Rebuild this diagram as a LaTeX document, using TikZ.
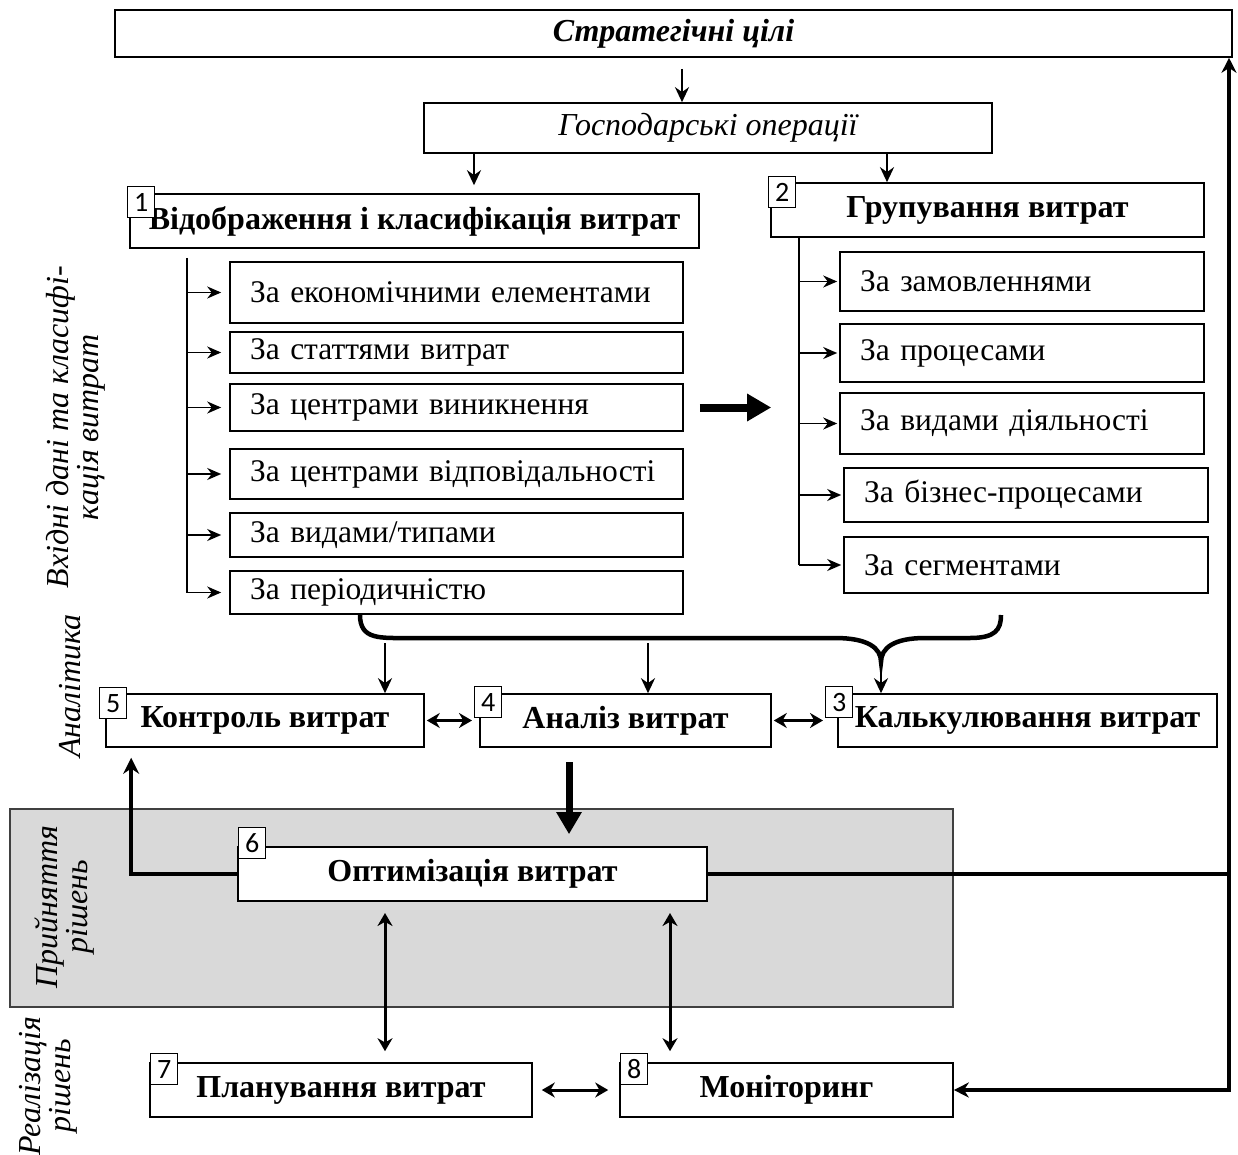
\documentclass[tikz,border=0pt]{standalone}
\usepackage{fontspec}
\setmainfont{Liberation Serif}
\newfontfamily\tagfont{Carlito}
\usetikzlibrary{arrows.meta}

\begin{document}
\begin{tikzpicture}[x=1pt,y=-1pt,
  box/.style={draw, line width=1.6pt, inner sep=0pt, font=\fontsize{32}{30}\selectfont\bfseries},
  lbox/.style={draw, line width=1.6pt, inner xsep=20pt, inner ysep=0pt, text width=413pt, align=left, font=\fontsize{31.5}{30}\selectfont},
  rbox/.style={lbox, text width=324pt},
  tag/.style={draw, fill=white, line width=1.4pt, inner sep=0pt, minimum width=27pt, minimum height=31pt, anchor=north west, font=\tagfont\fontsize{28}{28}\selectfont},
  side/.style={rotate=90, align=center, font=\fontsize{32}{30}\selectfont\itshape},
  arr/.style={line width=2.6pt, -{Stealth[length=15pt,width=14pt]}},
  sarr/.style={line width=1.8pt, -{Stealth[length=14pt,width=12pt]}},
  dbl/.style={line width=3pt, {Stealth[length=13pt,width=15pt]}-{Stealth[length=13pt,width=15pt]}},
  thk/.style={line width=4.5pt}]
\useasboundingbox (0,0) rectangle (1238,1155);

\path[fill=gray!30, draw=black!75, line width=1.5pt] (10,809) rectangle (953,1007);

\node[box, font=\fontsize{32}{30}\selectfont\bfseries\itshape, minimum width=1117pt, minimum height=47pt] (goals) at (673.5,33.5) {Стратегічні цілі};
\node[box, font=\fontsize{32}{30}\selectfont\itshape, minimum width=568pt, minimum height=50pt] (ops) at (708,128) {Господарські операції};
\node[box, minimum width=569pt, minimum height=54pt] (k1) at (414.5,221) {Відображення і класифікація витрат};
\node[box, minimum width=433pt, minimum height=54pt] (k2) at (987.5,210) {Групування витрат};

\node[lbox, minimum height=61pt] (l1) at (456.5,292.5) {За економічними елементами};
\node[lbox, minimum height=41pt] (l2) at (456.5,352.5) {За статтями витрат};
\node[lbox, minimum height=47pt] (l3) at (456.5,407.5) {За центрами виникнення};
\node[lbox, minimum height=50pt] (l4) at (456.5,474) {За центрами відповідальності};
\node[lbox, minimum height=44pt] (l5) at (456.5,535) {За видами/типами};
\node[lbox, minimum height=43pt] (l6) at (456.5,592.5) {За періодичністю};

\node[rbox, minimum height=59pt] (r1) at (1022,281.5) {За замовленнями};
\node[rbox, minimum height=58pt] (r2) at (1022,353) {За процесами};
\node[rbox, minimum height=61pt] (r3) at (1022,423.5) {За видами діяльності};
\node[rbox, minimum height=54pt] (r4) at (1026,495) {За бізнес-процесами};
\node[rbox, minimum height=56pt] (r5) at (1026,565) {За сегментами};

\node[box, minimum width=318pt, minimum height=53pt] (k5) at (265,720.5) {Контроль витрат};
\node[box, minimum width=291pt, minimum height=53pt] (k4) at (625.5,720.5) {Аналіз витрат};
\node[box, minimum width=379pt, minimum height=53pt] (k3) at (1027.5,720.5) {Калькулювання витрат};
\node[box, fill=white, minimum width=469pt, minimum height=54pt] (k6) at (472.5,874) {Оптимізація витрат};
\node[box, minimum width=382pt, minimum height=54pt] (k7) at (341,1090) {Планування витрат};
\node[box, minimum width=333pt, minimum height=54pt] (k8) at (786.5,1090) {Моніторинг};

\node[tag] (t1) at (127,186) {1};
\node[tag] (t2) at (768,176) {2};
\node[tag] (t3) at (825,686) {3};
\node[tag] (t4) at (474,686) {4};
\node[tag] (t5) at (99,687) {5};
\node[tag] (t6) at (238,827) {6};
\node[tag] (t7) at (150,1053) {7};
\node[tag] (t8) at (620,1053) {8};

\node[side] (s1) at (76,427) {Вхідні дані та класифі-\\кація витрат};
\node[side] (s2) at (70,686) {Аналітика};
\node[side] (s3) at (65,907) {Прийняття\\рішень};
\node[side] (s4) at (48,1086) {Реалізація\\рішень};

\coordinate (a0) at (682,69);
\coordinate (a1) at (474,153);
\coordinate (a2) at (887,153);
\draw[arr] (a0) -- (a0 |- ops.north);
\draw[arr, shorten >=8pt] (a1) -- (a1 |- k1.north);
\draw[arr] (a2) -- (a2 |- k2.north);

\coordinate (lt) at (187,258);
\draw[line width=1.8pt] (lt) -- (lt |- l6.west);
\draw[sarr, shorten >=8pt] (lt |- l1.west) -- (l1.west);
\draw[sarr, shorten >=8pt] (lt |- l2.west) -- (l2.west);
\draw[sarr, shorten >=8pt] (lt |- l3.west) -- (l3.west);
\draw[sarr, shorten >=8pt] (lt |- l4.west) -- (l4.west);
\draw[sarr, shorten >=8pt] (lt |- l5.west) -- (l5.west);
\draw[sarr, shorten >=8pt] (lt |- l6.west) -- (l6.west);

\coordinate (rt) at (799,237);
\draw[line width=1.8pt] (rt) -- (rt |- r5.west);
\draw[sarr, shorten >=2pt] (rt |- r1.west) -- (r1.west);
\draw[sarr, shorten >=2pt] (rt |- r2.west) -- (r2.west);
\draw[sarr, shorten >=2pt] (rt |- r3.west) -- (r3.west);
\draw[sarr, shorten >=2pt] (rt |- r4.west) -- (r4.west);
\draw[sarr, shorten >=2pt] (rt |- r5.west) -- (r5.west);

\draw[line width=8pt, -{Triangle[length=24pt,width=26pt]}, shorten <=16pt, shorten >=68pt] (l3.east) -- (l3.east -| r3.west);

\coordinate (bl) at (360,615);
\coordinate (br) at (1001,615);
\coordinate (tip) at (881,662);
\draw[thk] (bl) .. controls (360,640) and (380,638) .. (410,638) -- (835,638) .. controls (868,638) and (881,648) .. (tip) .. controls (881,648) and (894,638) .. (925,638) -- (970,638) .. controls (995,638) and (1001,630) .. (br);

\coordinate (d1) at (385,643);
\coordinate (d2) at (648,643);
\draw[arr] (d1) -- (d1 |- k5.north);
\draw[arr] (d2) -- (d2 |- k4.north);
\draw[arr, shorten <=2pt] (tip) -- (tip |- k3.north);

\draw[dbl, shorten <=2pt, shorten >=2pt] (k5.east) -- (k5.east -| t4.west);
\draw[dbl, shorten <=2pt, shorten >=2pt] (k4.east) -- (k4.east -| t3.west);

\coordinate (f1) at (569,762);
\draw[line width=7pt, -{Triangle[length=22pt,width=24pt]}, shorten >=12pt] (f1) -- (f1 |- k6.north);

\draw[line width=4pt, -{Stealth[length=16pt,width=16pt]}, shorten >=10pt] (k6.west) -| ([xshift=26pt]k5.south west);

\coordinate (rr) at (1229,1090);
\draw[thk] (k6.east) -- (k6.east -| rr);
\draw[thk, {Stealth[length=15pt,width=15pt]}-{Stealth[length=15pt,width=15pt]}] (rr |- goals.south) -- (rr) -- (k8.east);

\coordinate (v1) at (385,901);
\coordinate (v2) at (670,901);
\draw[dbl, shorten <=12pt, shorten >=11pt] (v1) -- (v1 |- k7.north);
\draw[dbl, shorten <=12pt, shorten >=11pt] (v2) -- (v2 |- k8.north);
\draw[dbl, shorten <=9pt, shorten >=11pt] (k7.east) -- (k8.west);
\end{tikzpicture}
\end{document}
